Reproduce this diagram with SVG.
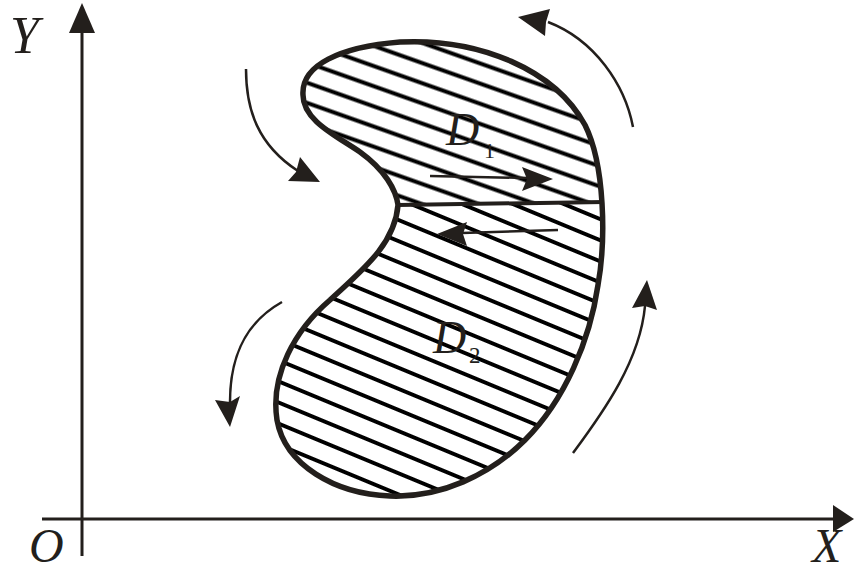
<svg xmlns="http://www.w3.org/2000/svg" width="854" height="573" viewBox="0 0 854 573">
<style>
.ax{stroke:#231f1c;stroke-width:3;fill:none}
.arc{stroke:#231f1c;stroke-width:2.5;fill:none}
.head{fill:#231f1c;stroke:none}
.lbl{font-family:"Liberation Serif",serif;font-style:italic;fill:#231f1c}
.sub{font-family:"Liberation Serif",serif;fill:#231f1c}
</style>
<defs>
<pattern id="hatchA" patternUnits="userSpaceOnUse" width="40" height="19" patternTransform="rotate(19.5) translate(0,4)">
<line x1="0" y1="9.5" x2="40" y2="9.5" stroke="#000" stroke-width="4"/>
</pattern>
<pattern id="hatchB" patternUnits="userSpaceOnUse" width="40" height="19.5" patternTransform="rotate(22.5) translate(0,2)">
<line x1="0" y1="9.75" x2="40" y2="9.75" stroke="#000" stroke-width="4"/>
</pattern>
<clipPath id="blobclip">
<path d="M 398,205 C 396,190 385,170 360,152 C 335,135 303,120 303,95 C 301,65 340,47 400,42 C 480,38 555,70 585,125 C 605,165 606,240 598,285 C 590,340 565,400 525,440 C 490,475 440,498 390,496 C 335,494 285,465 277,420 C 270,375 295,330 330,300 C 360,272 395,245 398,205 Z"/>
</clipPath>
</defs>
<rect width="854" height="573" fill="#fff"/>
<g id="axes">
<line class="ax" x1="82" y1="30" x2="82" y2="556"/>
<polygon class="head" points="82,3 95,33 69,33"/>
<line class="ax" x1="42" y1="519" x2="836" y2="519"/>
<polygon class="head" points="854,519 833,505 833,532"/>
<text class="lbl" x="10" y="53" font-size="52">Y</text>
<text class="lbl" x="29" y="562" font-size="48">O</text>
<text class="lbl" x="812" y="562" font-size="48">X</text>
</g>
<g id="region">
<g clip-path="url(#blobclip)">
<rect x="260" y="30" width="360" height="174" fill="url(#hatchA)"/>
<rect x="260" y="204" width="360" height="306" fill="url(#hatchB)"/>
</g>
<path d="M 398,205 C 396,190 385,170 360,152 C 335,135 303,120 303,95 C 301,65 340,47 400,42 C 480,38 555,70 585,125 C 605,165 606,240 598,285 C 590,340 565,400 525,440 C 490,475 440,498 390,496 C 335,494 285,465 277,420 C 270,375 295,330 330,300 C 360,272 395,245 398,205 Z" fill="none" stroke="#231f1c" stroke-width="5.5"/>
<line x1="398" y1="205" x2="604" y2="202" stroke="#231f1c" stroke-width="4"/>
</g>
<g id="D1">
<text class="lbl" x="446" y="145" font-size="46">D</text>
<text class="sub" x="484" y="158" font-size="22">1</text>
</g>
<g id="D2">
<text class="lbl" x="433" y="353" font-size="46">D</text>
<text class="sub" x="469" y="363" font-size="23">2</text>
</g>
<g id="connectors">
<line class="arc" x1="430" y1="176" x2="528" y2="178"/>
<polygon class="head" points="553,179 522,167 527,179 522,191"/>
<line class="arc" x1="558" y1="230" x2="462" y2="233"/>
<polygon class="head" points="437,234 467,222 463,234 467,246"/>
<path class="arc" d="M 246,69 C 246,110 258,145 298,171"/>
<polygon class="head" points="320,182 300,157 296,172 288,181"/>
<path class="arc" d="M 633,127 C 625,85 595,40 548,22"/>
<polygon class="head" points="518,17 550,9 546,22 545,36"/>
<path class="arc" d="M 282,302 C 250,320 230,350 230,402"/>
<polygon class="head" points="230,427 215,400 230,402 240,396"/>
<path class="arc" d="M 573,453 C 605,410 640,360 645,306"/>
<polygon class="head" points="647,280 632,308 645,306 657,310"/>
</g>
</svg>
